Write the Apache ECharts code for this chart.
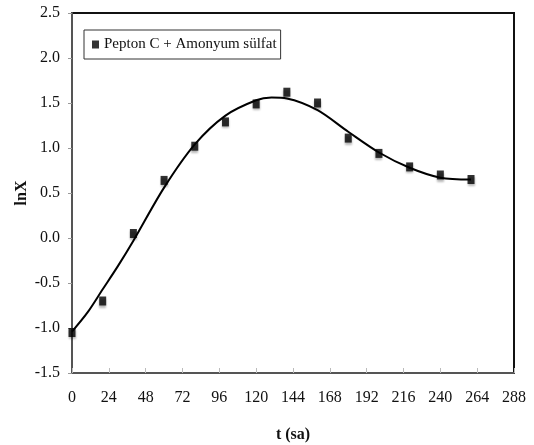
<!DOCTYPE html>
<html>
<head>
<meta charset="utf-8">
<script src="https://cdn.jsdelivr.net/npm/echarts@6/dist/echarts.min.js"></script>
<style>
  html, body { margin: 0; padding: 0; background: #fff; }
  #chart { width: 534px; height: 445px; }
</style>
</head>
<body>
<div id="chart"></div>
<script>
// measured points (t in hours, lnX)
var tPoints = [0, 20, 40, 60, 80, 100, 120, 140, 160, 180, 200, 220, 240, 260];
var lnXPoints = [-1.05, -0.70, 0.05, 0.64, 1.02, 1.29, 1.49, 1.62, 1.50, 1.11, 0.94, 0.79, 0.70, 0.65];

// fitted curve
var tCurve = [0, 10, 20, 30, 40, 60, 80, 100, 120, 130, 140, 160, 180, 200, 220, 240, 260];
var lnXCurve = [-1.04, -0.83, -0.57, -0.31, -0.03, 0.56, 1.04, 1.36, 1.53, 1.56, 1.55, 1.42, 1.18, 0.95, 0.78, 0.67, 0.65];

var seriesName = 'Pepton C + Amonyum sülfat';
var font = 'Liberation Serif';

var chart = echarts.init(document.getElementById('chart'));

var option = {
  animation: false,
  grid: {
    left: 72, right: 20, top: 13, bottom: 72,
    outerBoundsMode: 'none',
    show: true,
    borderColor: '#111',
    borderWidth: 2
  },
  legend: {
    data: [seriesName],
    left: 84,
    top: 30,
    padding: [7, 4, 7, 8],
    itemWidth: 7,
    itemHeight: 8,
    itemGap: 2,
    borderColor: '#333',
    borderWidth: 1,
    textStyle: { fontFamily: font, fontSize: 15, color: '#111' }
  },
  xAxis: {
    type: 'value',
    min: 0, max: 288, interval: 24,
    name: 't (sa)',
    nameLocation: 'middle',
    nameGap: 54,
    nameMoveOverlap: false,
    nameTextStyle: { fontFamily: font, fontSize: 16, fontWeight: 'bold', color: '#111' },
    splitLine: { show: false },
    axisLine: { onZero: false, lineStyle: { color: '#555', width: 2 } },
    axisTick: { inside: true, length: 5, lineStyle: { color: '#bbb' } },
    axisLabel: { fontFamily: font, fontSize: 16, color: '#111', margin: 17 }
  },
  yAxis: {
    type: 'value',
    min: -1.5, max: 2.5, interval: 0.5,
    name: 'lnX',
    nameLocation: 'middle',
    nameGap: 42,
    nameRotate: 90,
    nameMoveOverlap: false,
    nameTextStyle: { fontFamily: font, fontSize: 16, fontWeight: 'bold', color: '#111' },
    splitLine: { show: false },
    axisLine: { show: true, onZero: false, lineStyle: { color: '#555', width: 2 } },
    axisTick: { show: true, length: 4, lineStyle: { color: '#999' } },
    axisLabel: {
      fontFamily: font, fontSize: 16, color: '#111', margin: 12,
      formatter: function (v) { return v.toFixed(1); }
    }
  },
  series: [
    {
      name: 'fit',
      type: 'line',
      data: tCurve.map(function (t, i) { return [t, lnXCurve[i]]; }),
      smooth: 0.3,
      showSymbol: false,
      lineStyle: { color: '#000', width: 2 },
      z: 2
    },
    {
      name: seriesName,
      type: 'scatter',
      data: tPoints.map(function (t, i) { return [t, lnXPoints[i]]; }),
      symbol: 'rect',
      symbolSize: [7, 9],
      itemStyle: {
        color: '#000',
        shadowBlur: 2,
        shadowColor: 'rgba(0,0,0,0.35)',
        shadowOffsetY: 2
      },
      z: 3
    }
  ]
};

chart.setOption(option);
</script>
</body>
</html>
